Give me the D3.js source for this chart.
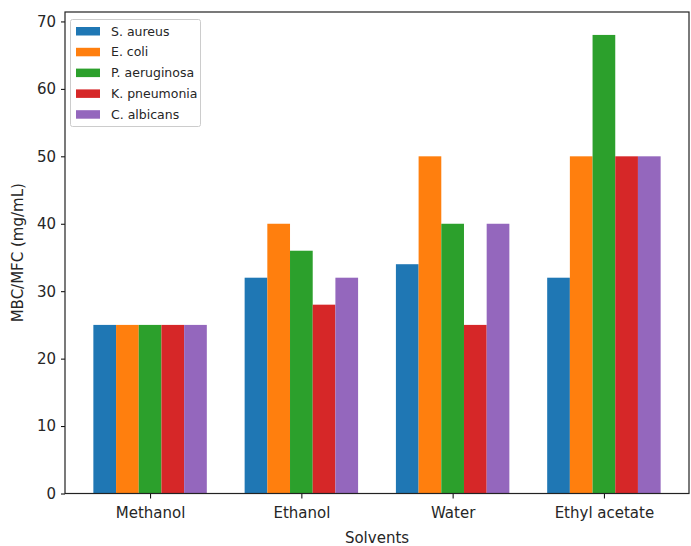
<!DOCTYPE html>
<html><head><meta charset="utf-8">
<script src="https://cdn.jsdelivr.net/npm/d3@7"></script>
<style>body{margin:0;background:#fff}svg{display:block}text{font-family:"DejaVu Sans",sans-serif;fill:#262626}</style>
</head><body>
<svg id="c" width="691" height="546"></svg>
<script>
const categories = ["Methanol", "Ethanol", "Water", "Ethyl acetate"];
const seriesNames = ["S. aureus", "E. coli", "P. aeruginosa", "K. pneumonia", "C. albicans"];
const sAureus = [25, 32, 34, 32];
const eColi = [25, 40, 50, 50];
const pAeruginosa = [25, 36, 40, 68];
const kPneumonia = [25, 28, 25, 50];
const cAlbicans = [25, 32, 40, 50];
const colors = ["#1f77b4", "#ff7f0e", "#2ca02c", "#d62728", "#9467bd"];
const yTicks = [0, 10, 20, 30, 40, 50, 60, 70];
const series = [sAureus, eColi, pAeruginosa, kPneumonia, cAlbicans];

const svg = d3.select("#c");
const L = 65, R = 689, T = 12, B = 493.5;
const x = d3.scaleLinear().domain([-0.5625, 3.5625]).range([L, R]);
const y = d3.scaleLinear().domain([0, 71.4]).range([B, T]);
const bw = 0.15;

series.forEach((vals, si) => {
  svg.append("g").selectAll("rect").data(vals).join("rect")
    .attr("x", (d, i) => x(i + (si - 2) * bw - bw / 2))
    .attr("width", x(bw) - x(0))
    .attr("y", d => y(d))
    .attr("height", d => y(0) - y(d))
    .attr("fill", colors[si]);
});

const xAxis = d3.axisBottom(x).tickValues(d3.range(categories.length)).tickFormat(i => categories[i]).tickSize(5).tickPadding(9);
const gx = svg.append("g").attr("transform", `translate(0,${B})`).call(xAxis);
gx.select(".domain").remove();
gx.selectAll("text").attr("font-size", 15).style("fill", "#262626");

const yAxis = d3.axisLeft(y).tickValues(yTicks).tickSize(4).tickPadding(5);
const gy = svg.append("g").attr("transform", `translate(${L},0)`).call(yAxis);
gy.select(".domain").remove();
gy.selectAll("text").attr("font-size", 15).style("fill", "#262626");

svg.append("rect").attr("x", L).attr("y", T).attr("width", R - L).attr("height", B - T)
  .attr("fill", "none").attr("stroke", "#222").attr("stroke-width", 1.2);

svg.append("text").attr("x", (L + R) / 2).attr("y", 543).attr("text-anchor", "middle")
  .attr("font-size", 15).text("Solvents");
svg.append("text").attr("transform", `translate(23,${(T + B) / 2}) rotate(-90)`).attr("text-anchor", "middle")
  .attr("font-size", 15).text("MBC/MFC (mg/mL)");

const lg = svg.append("g");
lg.append("rect").attr("x", 70.5).attr("y", 19.5).attr("width", 130).attr("height", 107)
  .attr("fill", "#fff").attr("fill-opacity", 0.8).attr("stroke", "#ccc").attr("rx", 2);
seriesNames.forEach((n, i) => {
  const cy = 31 + i * 20.8;
  lg.append("rect").attr("x", 76).attr("y", cy - 4).attr("width", 24).attr("height", 8.5).attr("fill", colors[i]);
  lg.append("text").attr("x", 111).attr("y", cy + 4.5).attr("font-size", 12.5).text(n);
});
</script>
</body></html>
